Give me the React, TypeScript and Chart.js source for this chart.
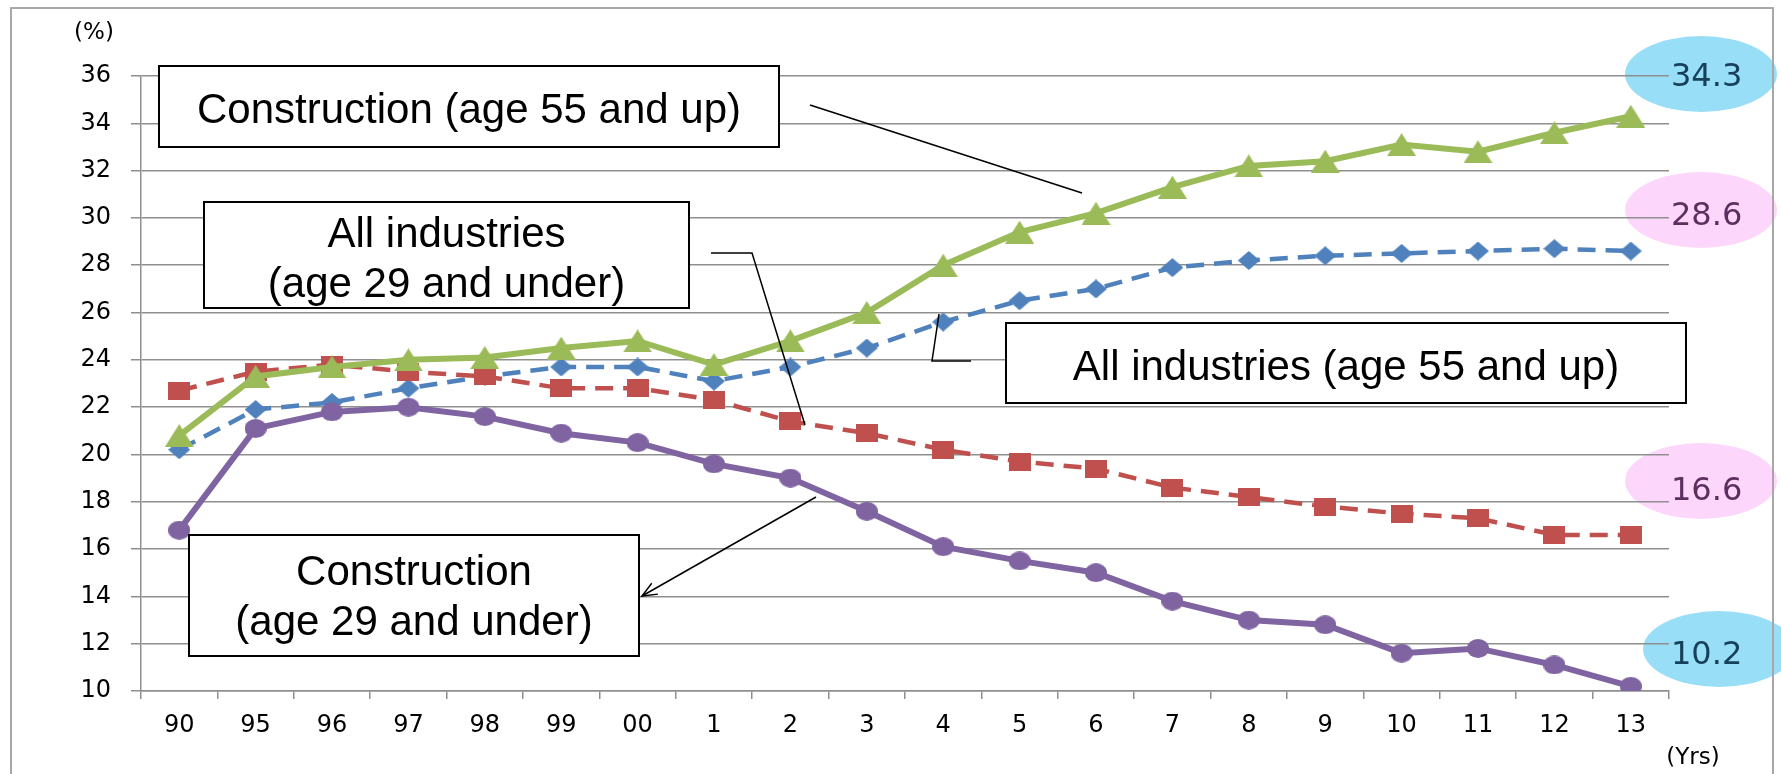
import React, { useEffect, useRef } from 'react';
import { Chart, registerables } from 'chart.js';

Chart.register(...registerables);

// ---------- data ----------
const categories = ['90', '95', '96', '97', '98', '99', '00', '1', '2', '3', '4', '5', '6', '7', '8', '9', '10', '11', '12', '13'];
const construction55Up = [20.8, 23.3, 23.7, 24.0, 24.1, 24.5, 24.8, 23.8, 24.8, 26.0, 28.0, 29.4, 30.2, 31.3, 32.2, 32.4, 33.1, 32.8, 33.6, 34.3];
const allIndustries55Up = [20.2, 21.9, 22.2, 22.8, 23.3, 23.7, 23.7, 23.1, 23.7, 24.5, 25.6, 26.5, 27.0, 27.9, 28.2, 28.4, 28.5, 28.6, 28.7, 28.6];
const allIndustries29Under = [22.7, 23.5, 23.8, 23.5, 23.3, 22.8, 22.8, 22.3, 21.4, 20.9, 20.2, 19.7, 19.4, 18.6, 18.2, 17.8, 17.5, 17.3, 16.6, 16.6];
const construction29Under = [16.8, 21.1, 21.8, 22.0, 21.6, 20.9, 20.5, 19.6, 19.0, 17.6, 16.1, 15.5, 15.0, 13.8, 13.0, 12.8, 11.6, 11.8, 11.1, 10.2];
const yMin = 10;
const yMax = 36;
const yStep = 2;
const yUnit = '(%)';
const xUnit = '(Yrs)';
const labelC55 = ['Construction (age 55 and up)'];
const labelA29 = ['All industries', '(age 29 and under)'];
const labelA55 = ['All industries (age 55 and up)'];
const labelC29 = ['Construction', '(age 29 and under)'];

const GREEN = '#9BBB59';
const BLUE = '#4F81BD';
const RED = '#C0504D';
const PURPLE = '#8064A2';

function makeMarker(shape: string, w: number, h: number, color: string) {
  const c = document.createElement('canvas');
  c.width = w;
  c.height = h;
  const g = c.getContext('2d')!;
  g.fillStyle = color;
  g.beginPath();
  if (shape === 'triangle') {
    g.moveTo(w / 2, 0);
    g.lineTo(w, h);
    g.lineTo(0, h);
    g.closePath();
  } else if (shape === 'diamond') {
    g.moveTo(w / 2, 0);
    g.lineTo(w, h / 2);
    g.lineTo(w / 2, h);
    g.lineTo(0, h / 2);
    g.closePath();
  } else if (shape === 'square') {
    g.rect(0, 0, w, h);
  } else {
    g.ellipse(w / 2, h / 2, w / 2, h / 2, 0, 0, Math.PI * 2);
  }
  g.fill();
  return c;
}

const decor = {
  id: 'decor',
  beforeDraw(chart: any) {
    const ctx = chart.ctx as CanvasRenderingContext2D;
    ctx.save();
    ctx.fillStyle = '#ffffff';
    ctx.fillRect(0, 0, chart.width, chart.height);
    const ell = (cx: number, cy: number, color: string) => {
      ctx.beginPath();
      ctx.ellipse(cx, cy, 76, 38, 0, 0, Math.PI * 2);
      ctx.fillStyle = color;
      ctx.fill();
    };
    ell(1701, 74, '#99DEF7');
    ell(1701, 210, '#FDD6FC');
    ell(1701, 481, '#FDD6FC');
    ell(1719, 649, '#99DEF7');
    ctx.strokeStyle = '#a8a8a8';
    ctx.lineWidth = 2;
    ctx.strokeRect(11, 8, 1762, 820);
    ctx.restore();
  },
  afterDraw(chart: any) {
    const ctx = chart.ctx as CanvasRenderingContext2D;
    ctx.save();
    // leader lines
    ctx.strokeStyle = '#000';
    ctx.lineWidth = 1.5;
    const poly = (pts: number[][]) => {
      ctx.beginPath();
      ctx.moveTo(pts[0][0], pts[0][1]);
      for (let i = 1; i < pts.length; i++) ctx.lineTo(pts[i][0], pts[i][1]);
      ctx.stroke();
    };
    poly([[810, 105], [1082, 193]]);
    poly([[711, 253], [752, 253], [805, 425]]);
    poly([[939, 314], [932, 361], [971, 361]]);
    poly([[816, 497], [642, 596]]);
    const ang = Math.atan2(497 - 596, 816 - 642);
    const tipX = 642, tipY = 596;
    poly([[tipX + 16 * Math.cos(ang + 0.4), tipY + 16 * Math.sin(ang + 0.4)], [tipX, tipY], [tipX + 16 * Math.cos(ang - 0.4), tipY + 16 * Math.sin(ang - 0.4)]]);

    // boxes
    const box = (x0: number, y0: number, x1: number, y1: number, lines: string[], baselines: number[]) => {
      ctx.fillStyle = '#fff';
      ctx.fillRect(x0, y0, x1 - x0, y1 - y0);
      ctx.strokeStyle = '#000';
      ctx.lineWidth = 2;
      ctx.strokeRect(x0, y0, x1 - x0, y1 - y0);
      ctx.fillStyle = '#000';
      ctx.font = '42px "Liberation Sans", Arial, sans-serif';
      ctx.textAlign = 'center';
      ctx.textBaseline = 'alphabetic';
      lines.forEach((t, i) => ctx.fillText(t, (x0 + x1) / 2, baselines[i]));
    };
    box(159, 66, 779, 147, labelC55, [123]);
    box(204, 202, 689, 308, labelA29, [247, 297]);
    box(1006, 323, 1686, 403, labelA55, [380]);
    box(189, 535, 639, 656, labelC29, [585, 635]);

    // end value labels
    ctx.font = '32px "DejaVu Sans", sans-serif';
    ctx.textAlign = 'left';
    ctx.textBaseline = 'alphabetic';
    ctx.fillStyle = '#17405A';
    ctx.fillText(construction55Up[construction55Up.length - 1].toFixed(1), 1671, 86);
    ctx.fillText(construction29Under[construction29Under.length - 1].toFixed(1), 1671, 664);
    ctx.fillStyle = '#5C2F5E';
    ctx.fillText(allIndustries55Up[allIndustries55Up.length - 1].toFixed(1), 1671, 225);
    ctx.fillText(allIndustries29Under[allIndustries29Under.length - 1].toFixed(1), 1671, 500);

    // unit labels
    ctx.fillStyle = '#000';
    ctx.font = '23px "DejaVu Sans", sans-serif';
    ctx.textAlign = 'center';
    ctx.textBaseline = 'middle';
    ctx.fillText(yUnit, 94, 33);
    ctx.fillText(xUnit, 1693, 758);
    ctx.restore();
  },
};

export default function App() {
  const ref = useRef<HTMLCanvasElement>(null);
  useEffect(() => {
    const canvas = ref.current!;
    const tri = makeMarker('triangle', 29, 23, GREEN);
    const dia = makeMarker('diamond', 22, 19, BLUE);
    const sq = makeMarker('square', 22, 18, RED);
    const cir = makeMarker('circle', 22, 19, PURPLE);
    const gridColor = '#8f8f8f';
    const chart = new Chart(canvas, {
      type: 'line',
      data: {
        labels: categories,
        datasets: [
          {
            label: labelC55.join(' '),
            data: construction55Up,
            borderColor: GREEN,
            backgroundColor: GREEN,
            borderWidth: 6,
            pointStyle: tri as any,
            pointRadius: 12,
            tension: 0,
          },
          {
            label: labelC29.join(' '),
            data: construction29Under,
            borderColor: PURPLE,
            backgroundColor: PURPLE,
            borderWidth: 6,
            pointStyle: cir as any,
            pointRadius: 10,
            tension: 0,
          },
          {
            label: labelA29.join(' '),
            data: allIndustries29Under,
            borderColor: RED,
            backgroundColor: RED,
            borderWidth: 4.5,
            borderDash: [18, 10],
            pointStyle: sq as any,
            pointRadius: 10,
            tension: 0,
          },
          {
            label: labelA55.join(' '),
            data: allIndustries55Up,
            borderColor: BLUE,
            backgroundColor: BLUE,
            borderWidth: 4.5,
            borderDash: [18, 10],
            pointStyle: dia as any,
            pointRadius: 10,
            tension: 0,
          },
        ],
      },
      options: {
        responsive: false,
        devicePixelRatio: 1,
        animation: false,
        events: [],
        layout: { padding: { left: 0, top: 76, right: 112, bottom: 0 } },
        plugins: {
          legend: { display: false },
          tooltip: { enabled: false },
        },
        scales: {
          x: {
            type: 'category',
            offset: true,
            grid: {
              offset: true,
              drawOnChartArea: false,
              drawTicks: true,
              tickLength: 8,
              color: gridColor,
              lineWidth: 1.5,
            },
            border: { display: true, color: gridColor, width: 1.5 },
            ticks: {
              color: '#000',
              font: { family: '"DejaVu Sans", sans-serif', size: 24 },
              padding: 12,
              maxRotation: 0,
              autoSkip: false,
            },
            afterFit: (scale: any) => {
              scale.height = 83;
            },
          },
          y: {
            min: yMin,
            max: yMax,
            grid: {
              color: gridColor,
              lineWidth: 1.5,
              drawTicks: true,
              tickLength: 10,
            },
            border: { display: true, color: gridColor, width: 1.5 },
            ticks: {
              stepSize: yStep,
              color: '#000',
              font: { family: '"DejaVu Sans", sans-serif', size: 24 },
              padding: 20,
            },
            afterFit: (scale: any) => {
              scale.width = 141;
            },
          },
        },
      },
      plugins: [decor],
    });
    return () => chart.destroy();
  }, []);
  return (
    <div style={{ position: 'fixed', left: 0, top: 0, width: 1781, height: 774, background: '#fff', overflow: 'hidden' }}>
      <canvas ref={ref} width={1781} height={774} style={{ display: 'block', width: 1781, height: 774 }} />
    </div>
  );
}
